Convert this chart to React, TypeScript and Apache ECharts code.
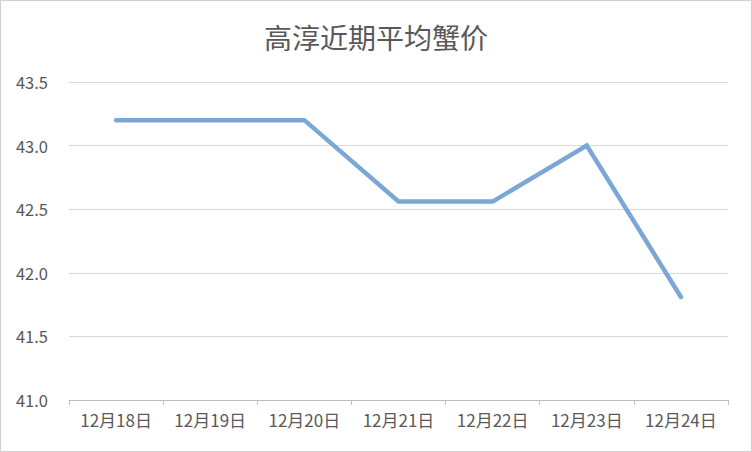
import React, { useEffect, useRef } from "react";
import * as echarts from "echarts";

const title = "高淳近期平均蟹价";
const categories = ["12月18日", "12月19日", "12月20日", "12月21日", "12月22日", "12月23日", "12月24日"];
const prices = [43.2, 43.2, 43.2, 42.56, 42.56, 43.0, 41.81];
const yMin = 41.0;
const yMax = 43.5;
const yStep = 0.5;

export default function App() {
  const ref = useRef<HTMLDivElement>(null);
  useEffect(() => {
    if (!ref.current) return;
    document.body.style.margin = "0";
    const chart = echarts.init(ref.current, null, { renderer: "svg" });
    const font = '"Noto Sans CJK SC", "Microsoft YaHei", sans-serif';
    chart.setOption({
      animation: false,
      backgroundColor: "#ffffff",
      title: {
        text: title,
        left: "center",
        top: 18,
        textStyle: { fontFamily: font, fontSize: 28, fontWeight: "normal", color: "#595959" },
      },
      graphic: [
        {
          type: "rect",
          shape: { x: 0.5, y: 0.5, width: 751, height: 451 },
          style: { fill: "none", stroke: "#D0D0D0", lineWidth: 1 },
          silent: true,
        },
      ],
      grid: { left: 69, right: 24, top: 82, bottom: 52, containLabel: false },
      xAxis: {
        type: "category",
        data: categories,
        boundaryGap: true,
        axisLine: { lineStyle: { color: "#BFBFBF", width: 1 } },
        axisTick: { show: true, length: 5, interval: 0, lineStyle: { color: "#BFBFBF" } },
        axisLabel: { fontFamily: font, fontSize: 17, color: "#595959", margin: 11, interval: 0 },
      },
      yAxis: {
        type: "value",
        min: yMin,
        max: yMax,
        interval: yStep,
        axisLine: { show: false },
        axisTick: { show: false },
        axisLabel: {
          fontFamily: font,
          fontSize: 16.5,
          color: "#595959",
          margin: 21,
          formatter: (v: number) => v.toFixed(1),
        },
        splitLine: { lineStyle: { color: "#D9D9D9", width: 1 } },
      },
      series: [
        {
          type: "line",
          data: prices,
          symbol: "none",
          lineStyle: { color: "#7BA7D5", width: 4.5, cap: "round", join: "miter" },
        },
      ],
    });
    return () => chart.dispose();
  }, []);
  return <div ref={ref} style={{ width: 752, height: 452 }} />;
}
